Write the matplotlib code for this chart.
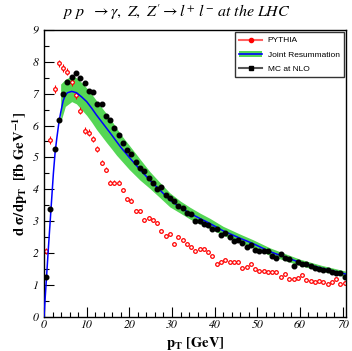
import numpy as np
import matplotlib.pyplot as plt
from matplotlib.patches import Patch
from matplotlib.lines import Line2D
from matplotlib.ticker import MultipleLocator

plt.rcParams['mathtext.fontset'] = 'stix'

# MC at NLO and PYTHIA, 1 GeV bins, centres 0.5 ... 70.5
bin_centres = np.arange(71) + 0.5
mc_nlo = [1.26, 3.38, 5.26, 6.17, 6.99, 7.38, 7.53, 7.64, 7.50, 7.32,
          7.07, 7.04, 6.67, 6.67, 6.30, 6.18, 5.91, 5.69, 5.44, 5.23,
          5.11, 4.85, 4.66, 4.58, 4.35, 4.19, 4.00, 4.07, 3.82, 3.72,
          3.65, 3.48, 3.41, 3.25, 3.22, 3.02, 3.02, 2.90, 2.87, 2.77,
          2.76, 2.57, 2.64, 2.50, 2.38, 2.41, 2.33, 2.20, 2.27, 2.10,
          2.08, 2.08, 2.07, 1.91, 1.86, 1.96, 1.86, 1.82, 1.61, 1.73,
          1.65, 1.66, 1.60, 1.53, 1.49, 1.47, 1.47, 1.40, 1.39, 1.37,
          1.26]
pythia = [2.07, 5.55, 7.14, 7.95, 7.80, 7.69, 7.35, 6.95, 6.47, 5.84,
          5.78, 5.57, 5.27, 4.84, 4.61, 4.21, 4.21, 4.21, 3.98, 3.70,
          3.65, 3.33, 3.33, 3.04, 3.09, 3.04, 2.93, 2.70, 2.55, 2.59,
          2.29, 2.52, 2.42, 2.29, 2.18, 2.08, 2.12, 2.12, 2.03, 1.91,
          1.65, 1.73, 1.79, 1.71, 1.71, 1.73, 1.55, 1.56, 1.65, 1.49,
          1.45, 1.45, 1.42, 1.42, 1.40, 1.26, 1.35, 1.19, 1.19, 1.21,
          1.32, 1.16, 1.14, 1.11, 1.13, 1.08, 1.03, 1.11, 1.18, 1.03,
          1.06]
pythia_err = [0.10, 0.12, 0.12, 0.12, 0.12, 0.11, 0.11, 0.11, 0.10, 0.10,
              0.10, 0.09, 0.09, 0.09, 0.08, 0.08, 0.08, 0.07, 0.07, 0.07,
              0.07, 0.06, 0.06, 0.06, 0.06, 0.06, 0.05, 0.05, 0.05, 0.05,
              0.05, 0.05, 0.05, 0.04, 0.04, 0.04, 0.04, 0.04, 0.04, 0.04,
              0.04, 0.04, 0.04, 0.04, 0.04, 0.04, 0.03, 0.03, 0.03, 0.03,
              0.03, 0.03, 0.03, 0.03, 0.03, 0.03, 0.03, 0.03, 0.03, 0.03,
              0.03, 0.03, 0.03, 0.03, 0.03, 0.03, 0.03, 0.03, 0.03, 0.03,
              0.03]

# Joint resummation central curve
res_x = [0, 0.3, 0.6, 1.0, 1.6, 2.2, 2.6, 3.0, 3.5, 3.9, 4.5, 5.0, 5.5,
         6.5, 7.6, 8.8, 10, 11.2, 12.3, 13.5, 14.7, 15.9, 17, 18, 20, 22.5,
         24.8, 27, 29.5, 32, 34.2, 36.5, 38.9, 42, 45.9, 49, 52.9, 56, 60,
         65, 70, 70.8]
res_y = [0, 0.65, 1.26, 2.1, 3.3, 4.5, 5.15, 5.6, 6.1, 6.4, 6.78, 6.95,
         7.03, 7.07, 7.03, 6.9, 6.75, 6.54, 6.33, 6.12, 5.91, 5.7, 5.5,
         5.32, 5.0, 4.62, 4.29, 4.0, 3.67, 3.43, 3.25, 3.09, 2.93, 2.7,
         2.47, 2.3, 2.05, 1.9, 1.71, 1.53, 1.37, 1.34]

# uncertainty band
band_x = [3.9, 5.0, 6.5, 7.6, 8.8, 10, 11.2, 12.3, 13.5, 14.7, 15.9, 17,
          18, 20, 22.5, 24.8, 27, 29.5, 32, 34.2, 36.5, 38.9, 42, 45.9,
          49, 52.9, 56, 60, 65, 70, 70.8]
band_hi = [7.3, 7.45, 7.55, 7.5, 7.35, 7.18, 6.98, 6.78, 6.57, 6.36, 6.14,
           5.92, 5.72, 5.38, 4.95, 4.56, 4.24, 3.89, 3.63, 3.44, 3.26,
           3.09, 2.84, 2.6, 2.42, 2.17, 2.01, 1.81, 1.62, 1.46, 1.43]
band_lo = [6.1, 6.6, 6.75, 6.68, 6.5, 6.32, 6.1, 5.88, 5.67, 5.46, 5.26,
           5.07, 4.92, 4.62, 4.29, 4.03, 3.76, 3.45, 3.25, 3.07, 2.92,
           2.77, 2.56, 2.34, 2.18, 1.93, 1.79, 1.61, 1.44, 1.28, 1.25]

fig = plt.figure(figsize=(3.52, 3.51), dpi=100)
ax = fig.add_axes([0.125, 0.097, 0.858, 0.818])

green = '#55d655'
ax.fill_between(band_x, band_lo, band_hi, color=green, lw=0, zorder=1)
ax.errorbar(bin_centres, pythia, yerr=pythia_err, fmt='o', ms=2.6,
            mfc='white', mec='red', mew=0.9, ecolor='red', elinewidth=0.8,
            capsize=0, zorder=2)
ax.plot(res_x, res_y, color='blue', lw=1.1, zorder=3)
ax.plot(bin_centres, mc_nlo, 'o', ms=3.3, color='black', zorder=4)

ax.set_xlim(0, 70.8)
ax.set_ylim(0, 9)
ax.xaxis.set_major_locator(MultipleLocator(10))
ax.xaxis.set_minor_locator(MultipleLocator(2))
ax.yaxis.set_major_locator(MultipleLocator(1))
ax.yaxis.set_minor_locator(MultipleLocator(0.5))
ax.tick_params(which='both', direction='in', top=False, right=False,
               labelsize=8.5)
ax.tick_params(axis='x', pad=2)
ax.tick_params(axis='y', pad=4)
ax.tick_params(which='major', length=7, width=0.8)
ax.tick_params(which='minor', length=3.5, width=0.8)
for lab in ax.get_xticklabels() + ax.get_yticklabels():
    lab.set_fontfamily('STIXGeneral')
    lab.set_fontstyle('italic')
for s in ax.spines.values():
    s.set_linewidth(1.0)

ax.set_xlabel(r'$\mathbf{p}_{\mathbf{T}}\ \mathbf{[GeV]}$', fontsize=10.5)
ax.xaxis.set_label_coords(0.5, -0.062)
ax.set_ylabel(r'$\mathbf{d\ \sigma/dp}_{\mathbf{T}}\ \ \mathbf{[fb\ GeV}^{\mathbf{-1}}\mathbf{]}$',
              fontsize=10.5, labelpad=2)
fig.text(0.5, 0.965, r"$p\ p\ \ \rightarrow \gamma,\ Z,\ Z'\rightarrow l^{+}\ l^{-}\ at\ the\ LHC$",
         ha='center', va='center', fontsize=11.5)

handles = [
    Line2D([], [], color='#ff6060', lw=1.5, marker='o', ms=3, mfc='red',
           mec='red'),
    (Patch(facecolor=green, lw=0), Line2D([], [], color='blue', lw=1.2)),
    Line2D([], [], color='#555555', lw=1.5, marker='s', ms=2.5,
           mfc='black', mec='black'),
]
labels = ['PYTHIA', 'Joint Resummation', 'MC at NLO']
leg = ax.legend(handles, labels, loc='upper right',
                bbox_to_anchor=(0.993, 0.991), prop={'family': 'Liberation Sans', 'size': 6},
                frameon=True, fancybox=False, shadow=False, borderpad=0.5,
                handlelength=2.7, handletextpad=0.7, labelspacing=0.75,
                borderaxespad=0)
leg.get_frame().set_edgecolor('black')
leg.get_frame().set_linewidth(1.0)

fig.savefig('out.png', dpi=100)
